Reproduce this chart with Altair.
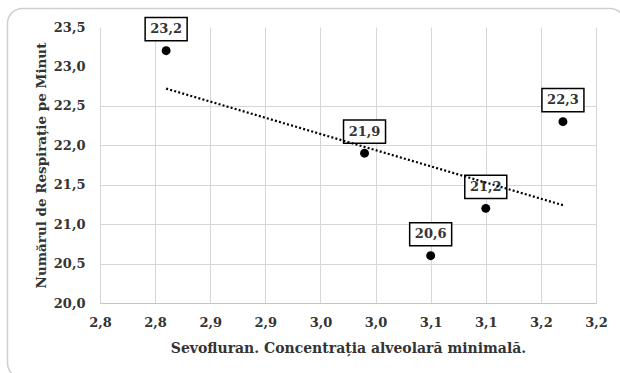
import altair as alt
import pandas as pd

# Sevoflurane MAC vs. breaths per minute
mac = [2.81, 2.99, 3.05, 3.10, 3.17]
breaths = [23.2, 21.9, 20.6, 21.2, 22.3]

x_ticks = [2.75, 2.80, 2.85, 2.90, 2.95, 3.00, 3.05, 3.10, 3.15, 3.20]
y_ticks = [20.0, 20.5, 21.0, 21.5, 22.0, 22.5, 23.0, 23.5]

x_title = "Sevofluran. Concentrația alveolară minimală."
y_title = "Numărul de Respirație pe Minut"

df = pd.DataFrame({"x": mac, "y": breaths})

FONT = "DejaVu Serif"
GRID = "#d6d6d6"
TEXT = "#333333"

x_scale = alt.Scale(domain=[2.75, 3.20], nice=False, zero=False)
y_scale = alt.Scale(domain=[20.0, 23.5], nice=False, zero=False)

x_axis = alt.Axis(
    values=x_ticks, tickCount=len(x_ticks) + 2,
    labelExpr="replace(format(datum.value + 0.0001, '.1f'), '.', ',')",
    grid=True, gridColor=GRID, gridWidth=1,
    domain=True, domainColor="#c4c4c4", domainWidth=1,
    ticks=False, tickSize=0,
    labelFont=FONT, labelFontWeight="bold", labelFontSize=13, labelColor=TEXT,
    labelBaseline="middle", labelPadding=19.5, labelFlush=False, labelOverlap=False,
    title=x_title, titleFont=FONT, titleFontWeight="bold", titleFontSize=14,
    titleColor=TEXT, titleBaseline="middle", titleY=45,
)

# upper two horizontal gridlines are left out
y_axis = alt.Axis(
    values=y_ticks, tickCount=len(y_ticks) + 2,
    labelExpr="replace(format(datum.value, '.1f'), '.', ',')",
    grid=True, gridWidth=1,
    gridColor=alt.condition("datum.value > 22.6", alt.value("transparent"), alt.value(GRID)),
    domain=False, ticks=False, tickSize=0,
    labelFont=FONT, labelFontWeight="bold", labelFontSize=13, labelColor=TEXT,
    labelPadding=15, labelOverlap=False, labelFlush=False,
    title=y_title, titleFont=FONT, titleFontWeight="bold", titleFontSize=13.5,
    titleColor=TEXT, titleBaseline="middle", titleX=-59,
)

base = alt.Chart(df)

points = base.mark_circle(size=80, color="black", opacity=1).encode(
    x=alt.X("x:Q", scale=x_scale, axis=x_axis),
    y=alt.Y("y:Q", scale=y_scale, axis=y_axis),
)

labelled = base.transform_calculate(
    label="replace(format(datum.y, '.1f'), '.', ',')"
)

boxes = labelled.mark_point(
    shape="M-1,-0.55L1,-0.55L1,0.55L-1,0.55Z",
    size=1764, filled=True, fill="white", stroke="black",
    strokeWidth=1.5, opacity=1, yOffset=-21.5,
).encode(x=alt.X("x:Q", scale=x_scale), y=alt.Y("y:Q", scale=y_scale))

texts = labelled.mark_text(
    font=FONT, fontWeight="bold", fontSize=13, color=TEXT,
    baseline="middle", align="center", yOffset=-21.5,
).encode(
    x=alt.X("x:Q", scale=x_scale), y=alt.Y("y:Q", scale=y_scale), text="label:N"
)

trend = base.transform_regression("x", "y").mark_line(
    color="black", strokeDash=[2, 2.2], strokeWidth=2.2
).encode(x=alt.X("x:Q", scale=x_scale), y=alt.Y("y:Q", scale=y_scale))

frame = alt.Chart(pd.DataFrame({"k": [0]})).mark_rect(
    filled=False, stroke="#cfcfcf", strokeWidth=1.5, cornerRadius=15
).encode(
    x=alt.value(-92.5), x2=alt.value(525), y=alt.value(-18.5), y2=alt.value(351)
)

chart = (
    alt.layer(frame, points, boxes, texts, trend)
    .properties(
        width=496, height=276,
        autosize=alt.AutoSizeParams(type="none"),
        padding={"left": 100, "top": 27, "right": 24, "bottom": 70},
        background="white",
    )
    .configure_view(stroke=None)
)

chart.save("out.html", embed_options={"renderer": "svg", "actions": False})
